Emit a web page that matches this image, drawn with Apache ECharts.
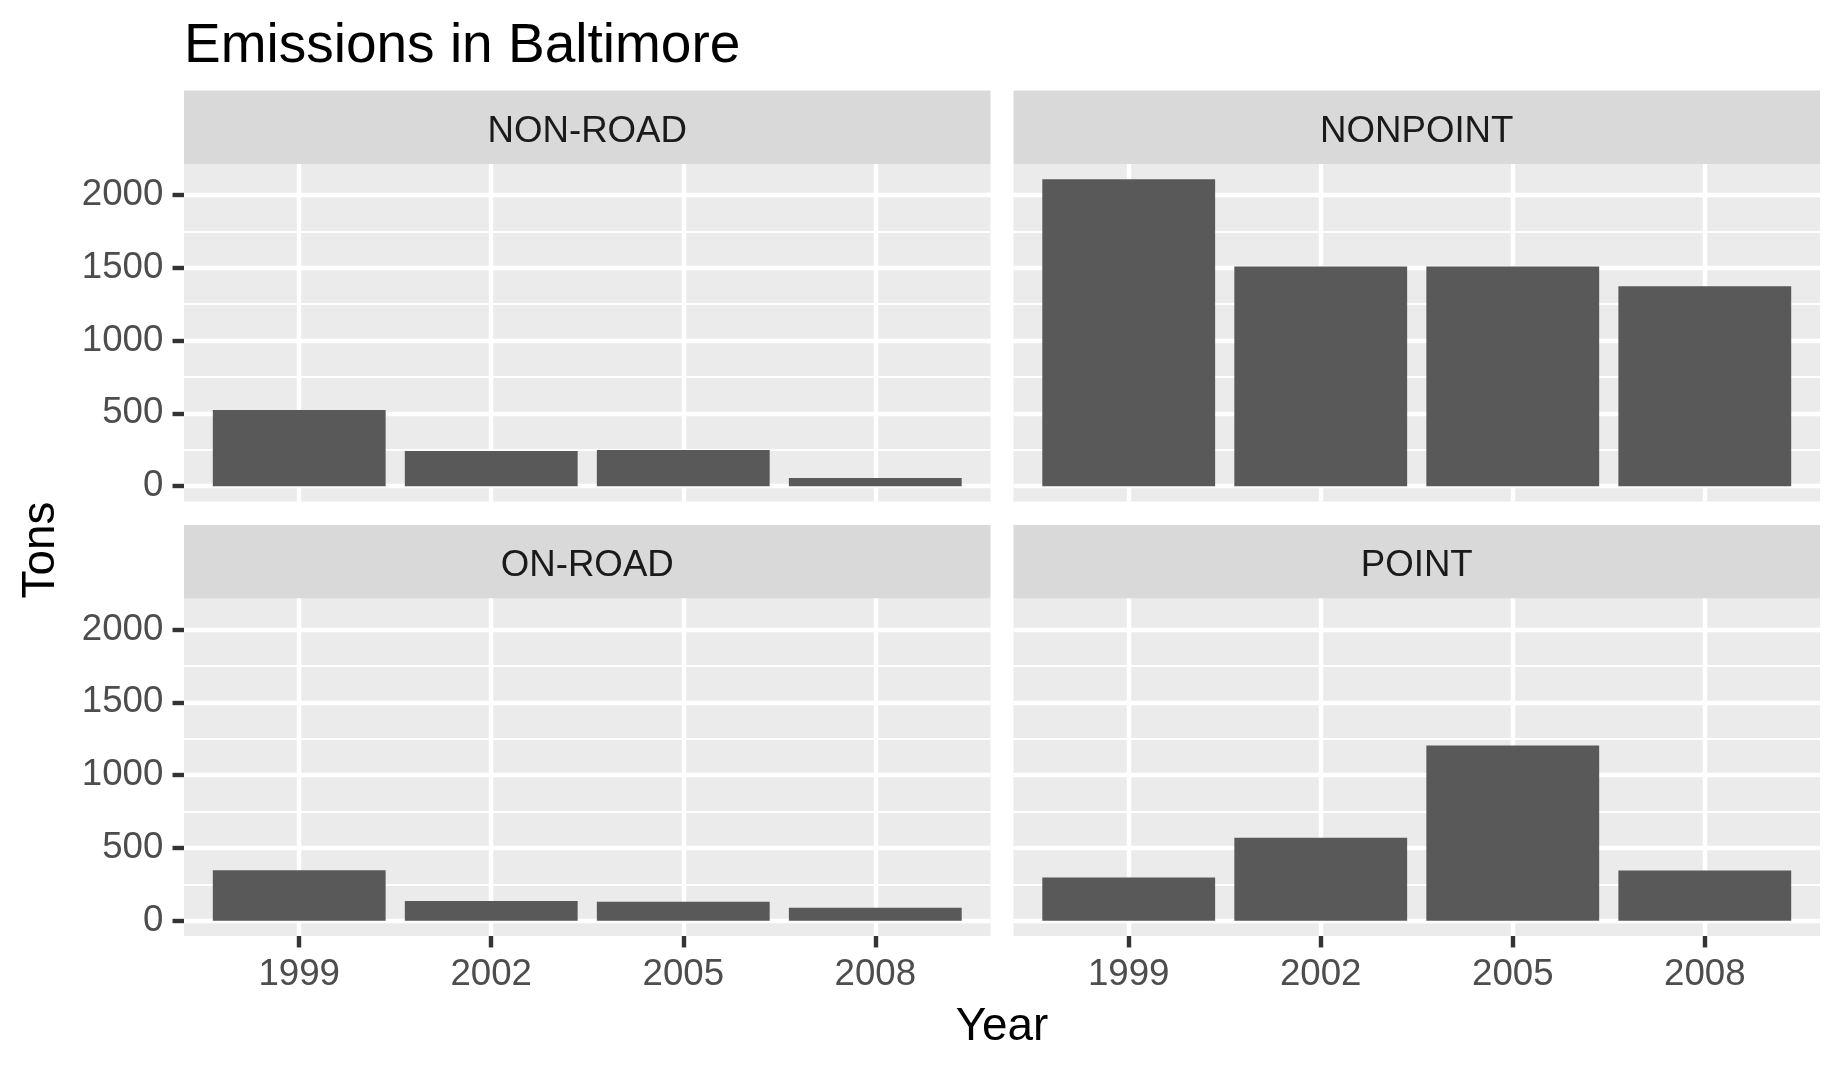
<!DOCTYPE html>
<html><head><meta charset="utf-8">
<script src="https://cdn.jsdelivr.net/npm/echarts@6/dist/echarts.min.js"></script>
<style>html,body{margin:0;padding:0;background:#fff}#c{width:1843px;height:1065px}</style>
</head><body><div id="c"></div>
<script>
// ---- data ----
const years = ['1999', '2002', '2005', '2008'];
const panelNames = ['NON-ROAD', 'NONPOINT', 'ON-ROAD', 'POINT'];
const nonRoad  = [522.94, 240.85, 248.93, 55.82];
const nonPoint = [2107.63, 1509.50, 1509.50, 1373.21];
const onRoad   = [346.82, 134.31, 130.43, 88.28];
const point    = [296.80, 569.26, 1202.49, 344.98];
const yTicks   = [0, 500, 1000, 1500, 2000];
const chartTitle = 'Emissions in Baltimore';
const xTitle = 'Year';
const yTitle = 'Tons';

// ---- layout / style ----
const panelValues = [nonRoad, nonPoint, onRoad, point];
const FONT = '"Liberation Sans", Arial, sans-serif';
const PT = 300 / 72;
const tickFont = 8.8 * PT, axisTitleFont = 11 * PT, titleFont = 13.2 * PT;
const lineW = 4.4, minorW = 2.2, tickLen = 2.75 * PT, labelGap = 2.2 * PT;
const colLeft = [184, 1013.5], W = 806.5;
const rowTop = [164, 598.5], H = 337.5, stripH = 73.5;

const n = years.length;
const allVals = [].concat(...panelValues);
const dataMax = Math.max(...allVals);
const yMin = -0.05 * dataMax, yMax = dataMax * 1.05;
const pxPer = H / (yMax - yMin);
const u = W / (n + 0.2);

const grids = [], xAxes = [], yAxes = [], series = [], graphics = [];

panelValues.forEach((vals, p) => {
  const col = p % 2, row = Math.floor(p / 2);
  const L = colLeft[col], T = rowTop[row];
  const gi = grids.length;
  // panel background + bars
  grids.push({left: L, top: T, width: W, height: H, show: true, backgroundColor: '#EBEBEB', borderWidth: 0});
  xAxes.push({gridIndex: gi, type: 'value', min: -0.6, max: n - 1 + 0.6, show: false});
  yAxes.push({gridIndex: gi, type: 'value', min: yMin, max: yMax, show: false});
  series.push({
    type: 'bar', xAxisIndex: gi, yAxisIndex: gi,
    data: vals.map((v, k) => [k, v]),
    barWidth: 0.9 * u, itemStyle: {color: '#595959'}, z: 3, silent: true
  });
  // horizontal grid + y axis
  const yTop = yTicks[yTicks.length - 1], yBot = yTicks[0];
  grids.push({left: L, width: W, top: T + (yMax - yTop) * pxPer, height: (yTop - yBot) * pxPer, show: false});
  xAxes.push({gridIndex: gi + 1, type: 'value', min: 0, max: 1, show: false});
  yAxes.push({
    gridIndex: gi + 1, type: 'value', min: yBot, max: yTop, interval: yTicks[1] - yTicks[0],
    axisLine: {show: false},
    axisTick: {show: col === 0, length: tickLen, lineStyle: {color: '#333333', width: lineW}},
    axisLabel: {show: col === 0, fontSize: tickFont, fontFamily: FONT, color: '#4D4D4D', margin: tickLen + labelGap,
                formatter: v => String(v)},
    splitLine: {show: true, lineStyle: {color: '#FFFFFF', width: lineW}},
    minorTick: {show: false, splitNumber: 2},
    minorSplitLine: {show: true, lineStyle: {color: '#FFFFFF', width: minorW}}
  });
  // vertical grid + x axis
  grids.push({left: L + 0.6 * u, width: (n - 1) * u, top: T, height: H, show: false});
  xAxes.push({
    gridIndex: gi + 2, type: 'value', min: 0, max: n - 1, interval: 1,
    axisLine: {show: false},
    axisTick: {show: row === 1, length: tickLen, lineStyle: {color: '#333333', width: lineW}},
    axisLabel: {show: row === 1, fontSize: tickFont, fontFamily: FONT, color: '#4D4D4D', margin: tickLen + labelGap,
                formatter: v => years[Math.round(v)]},
    splitLine: {show: true, lineStyle: {color: '#FFFFFF', width: lineW}}
  });
  yAxes.push({gridIndex: gi + 2, type: 'value', min: 0, max: 1, show: false});
  // strip
  graphics.push({type: 'rect', shape: {x: L, y: T - stripH, width: W, height: stripH}, style: {fill: '#D9D9D9'}, silent: true});
  graphics.push({type: 'text', x: L + W / 2, y: T - stripH / 2 + 4.5,
    style: {text: panelNames[p], fontSize: tickFont, fontFamily: FONT, fill: '#1A1A1A',
            align: 'center', verticalAlign: 'middle', textAlign: 'center', textVerticalAlign: 'middle'}, silent: true});
});

graphics.push({type: 'text', x: 184, y: 46.5,
  style: {text: chartTitle, fontSize: titleFont, fontFamily: FONT, fill: '#000000',
          align: 'left', verticalAlign: 'middle', textAlign: 'left', textVerticalAlign: 'middle'}, silent: true});
graphics.push({type: 'text', x: (colLeft[0] + colLeft[1] + W) / 2, y: 1027,
  style: {text: xTitle, fontSize: axisTitleFont, fontFamily: FONT, fill: '#000000',
          align: 'center', verticalAlign: 'middle', textAlign: 'center', textVerticalAlign: 'middle'}, silent: true});
graphics.push({type: 'text', x: 41, y: (rowTop[0] + rowTop[1] + H) / 2, rotation: Math.PI / 2,
  style: {text: yTitle, fontSize: axisTitleFont, fontFamily: FONT, fill: '#000000',
          align: 'center', verticalAlign: 'middle', textAlign: 'center', textVerticalAlign: 'middle'}, silent: true});

const chart = echarts.init(document.getElementById('c'), null, {renderer: 'canvas'});
chart.setOption({
  animation: false,
  backgroundColor: '#FFFFFF',
  grid: grids, xAxis: xAxes, yAxis: yAxes, series: series,
  graphic: {elements: graphics}
});
</script>
</body></html>
